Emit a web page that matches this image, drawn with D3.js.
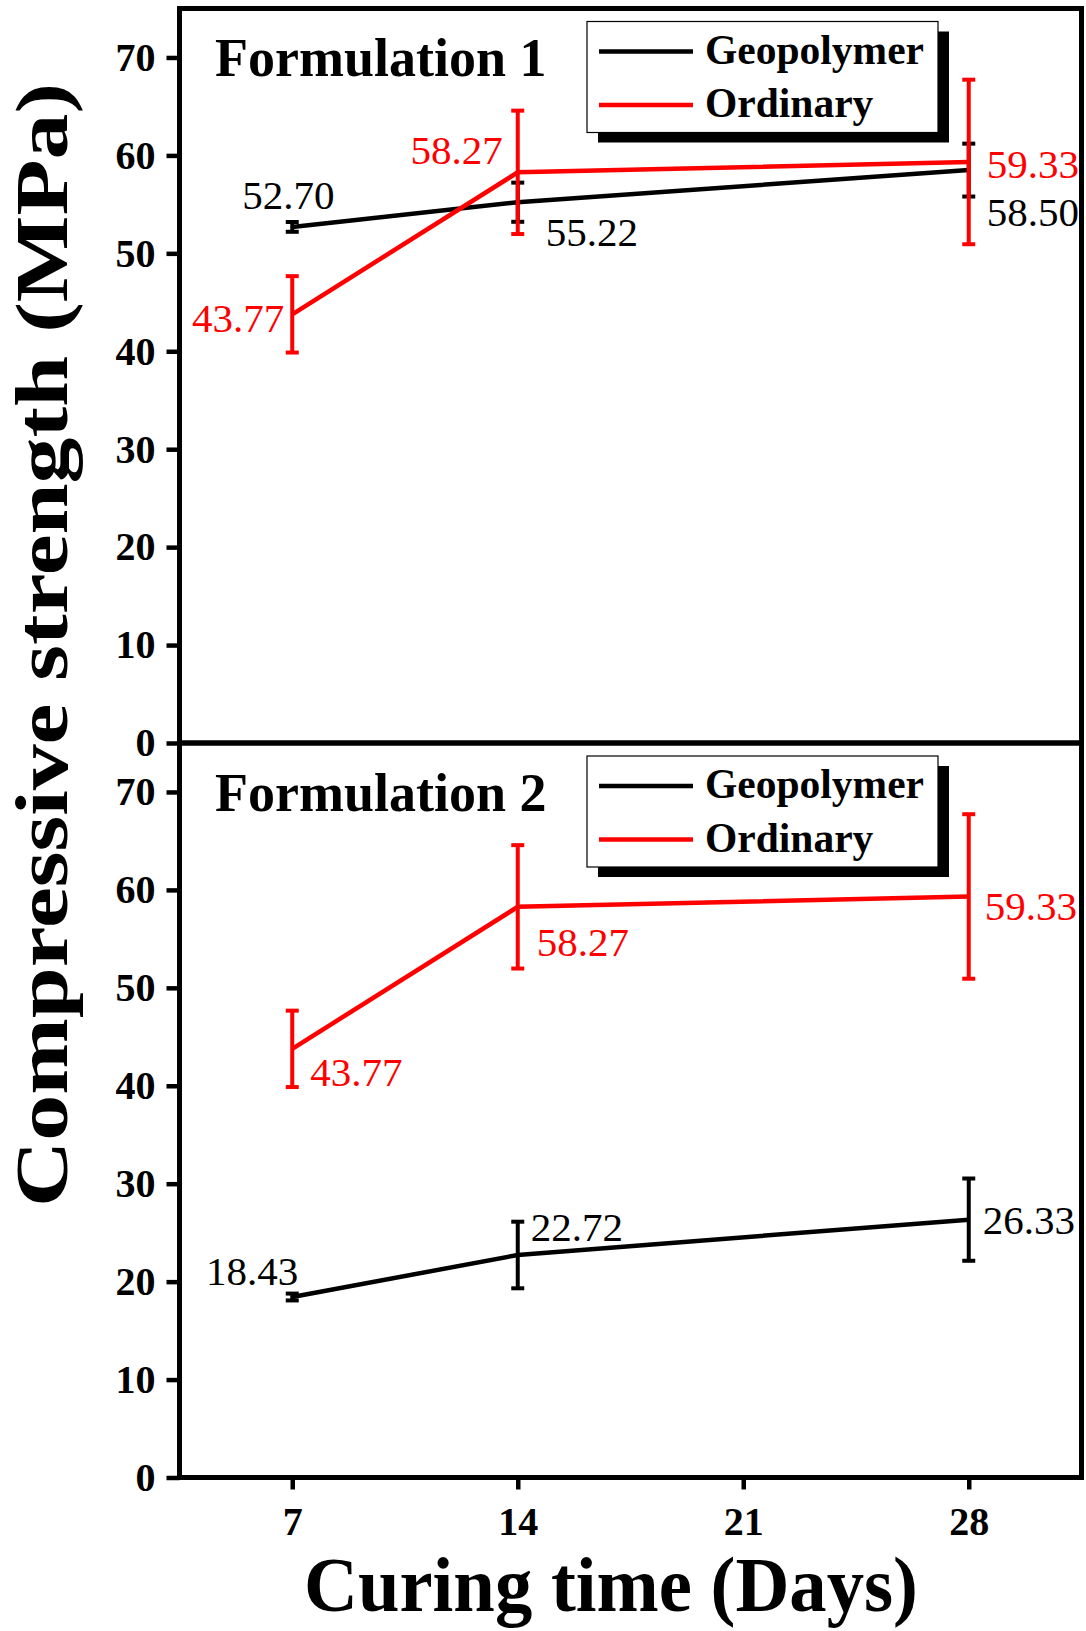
<!DOCTYPE html>
<html>
<head>
<meta charset="utf-8">
<script src="https://cdn.jsdelivr.net/npm/d3@7"></script>
<style>
  html, body { margin: 0; padding: 0; background: #fff; }
  svg { display: block; }
  text { font-family: "Liberation Serif", "Times New Roman", serif; }
</style>
</head>
<body>
<svg id="chart" width="1086" height="1631"></svg>
<script>
// Curing ages (days) and compressive strength results (MPa)
const days = [7, 14, 21, 28];
const testDays = [7, 14, 28];
const yTicks = [0, 10, 20, 30, 40, 50, 60, 70];
const seriesNames = ["Geopolymer", "Ordinary"];
const panelTitles = ["Formulation 1", "Formulation 2"];

// Formulation 1
const f1Geopolymer = [52.70, 55.22, 58.50];
const f1GeopolymerErr = [0.5, 2.0, 2.7];
const f1Ordinary = [43.77, 58.27, 59.33];
const f1OrdinaryErr = [3.9, 6.3, 8.4];

// Formulation 2
const f2Geopolymer = [18.43, 22.72, 26.33];
const f2GeopolymerErr = [0.35, 3.4, 4.2];
const f2Ordinary = [43.77, 58.27, 59.33];
const f2OrdinaryErr = [3.9, 6.3, 8.4];

// Where each value label sits relative to its point: [anchor, dx, dy]
const f1GeoLabelPos = [["middle", -4, -18], ["start", 28, 44], ["start", 18, 56]];
const f1OrdLabelPos = [["end", -8, 18], ["end", -15, -8], ["start", 18, 16]];
const f2GeoLabelPos = [["end", 6, -12], ["start", 13, -14], ["start", 14, 14]];
const f2OrdLabelPos = [["start", 18, 37], ["start", 19, 49], ["start", 16, 24]];

const colors = { Geopolymer: "#000000", Ordinary: "#ff0000" };

const svg = d3.select("#chart");
const left = 179.5, right = 1081.5;
const panelTop = [8.5, 743];
const panelHeight = 734.5;

const x = d3.scaleLinear().domain([3.5, 31.5]).range([left, right]);

const panels = [
  {
    title: panelTitles[0],
    series: [
      { name: "Geopolymer", values: f1Geopolymer, err: f1GeopolymerErr, pos: f1GeoLabelPos },
      { name: "Ordinary", values: f1Ordinary, err: f1OrdinaryErr, pos: f1OrdLabelPos }
    ]
  },
  {
    title: panelTitles[1],
    series: [
      { name: "Geopolymer", values: f2Geopolymer, err: f2GeopolymerErr, pos: f2GeoLabelPos },
      { name: "Ordinary", values: f2Ordinary, err: f2OrdinaryErr, pos: f2OrdLabelPos }
    ]
  }
];

panels.forEach((panel, pi) => {
  const top = panelTop[pi];
  const bottom = top + panelHeight;
  const y = d3.scaleLinear().domain([0, 75]).range([bottom, top]);
  const g = svg.append("g");

  // y axis ticks and labels
  const yAxis = g.append("g")
    .attr("transform", `translate(${left},0)`)
    .call(d3.axisLeft(y).tickValues(yTicks).tickSize(13).tickPadding(11).tickFormat(d3.format("d")));
  yAxis.select(".domain").remove();
  yAxis.selectAll(".tick line").attr("stroke", "#000").attr("stroke-width", 4.5);
  yAxis.selectAll(".tick text")
    .attr("font-family", "'Liberation Serif', 'Times New Roman', serif")
    .attr("font-weight", "bold")
    .attr("font-size", 40)
    .attr("fill", "#000");

  // x axis only on the lower panel
  if (pi === 1) {
    const xAxis = g.append("g")
      .attr("transform", `translate(0,${bottom})`)
      .call(d3.axisBottom(x).tickValues(days).tickSize(12).tickPadding(17).tickFormat(d3.format("d")));
    xAxis.select(".domain").remove();
    xAxis.selectAll(".tick line").attr("stroke", "#000").attr("stroke-width", 4.5);
    xAxis.selectAll(".tick text")
      .attr("font-family", "'Liberation Serif', 'Times New Roman', serif")
      .attr("font-weight", "bold")
      .attr("font-size", 40)
      .attr("fill", "#000");
  }

  // Series: lines, error bars, value labels
  const line = d3.line().x((d, i) => x(testDays[i])).y(d => y(d));
  panel.series.forEach(s => {
    const c = colors[s.name];
    g.append("path")
      .datum(s.values)
      .attr("d", line)
      .attr("fill", "none")
      .attr("stroke", c)
      .attr("stroke-width", 4.5)
      .attr("stroke-linejoin", "miter");

    const eb = g.append("g").attr("stroke", c).attr("stroke-width", 4);
    s.values.forEach((v, i) => {
      const cx = x(testDays[i]);
      const lo = y(v - s.err[i]), hi = y(v + s.err[i]);
      eb.append("line").attr("x1", cx).attr("x2", cx).attr("y1", lo).attr("y2", hi);
      eb.append("line").attr("x1", cx - 6.5).attr("x2", cx + 6.5).attr("y1", lo).attr("y2", lo);
      eb.append("line").attr("x1", cx - 6.5).attr("x2", cx + 6.5).attr("y1", hi).attr("y2", hi);
    });

    g.selectAll(null)
      .data(s.values)
      .enter()
      .append("text")
      .attr("x", (d, i) => x(testDays[i]) + s.pos[i][1])
      .attr("y", (d, i) => y(d) + s.pos[i][2])
      .attr("text-anchor", (d, i) => s.pos[i][0])
      .attr("font-size", 41)
      .attr("fill", c)
      .text(d => d3.format(".2f")(d));
  });

  // Frame
  g.append("rect")
    .attr("x", left).attr("y", top)
    .attr("width", right - left).attr("height", panelHeight)
    .attr("fill", "none").attr("stroke", "#000").attr("stroke-width", 5);

  // Panel title
  g.append("text")
    .attr("x", 215).attr("y", top + 67.5)
    .attr("font-size", 54).attr("font-weight", "bold")
    .text(panel.title);

  // Legend with drop shadow
  const lg = g.append("g").attr("transform", `translate(587,${top + 13})`);
  lg.append("rect").attr("x", 11).attr("y", 10).attr("width", 351).attr("height", 111).attr("fill", "#000");
  lg.append("rect").attr("x", 0).attr("y", 0).attr("width", 351).attr("height", 111)
    .attr("fill", "#fff").attr("stroke", "#000").attr("stroke-width", 1.2);
  seriesNames.forEach((name, i) => {
    const ly = 30 + i * 53.5;
    lg.append("line").attr("x1", 12).attr("x2", 106).attr("y1", ly).attr("y2", ly)
      .attr("stroke", colors[name]).attr("stroke-width", 4.5);
    lg.append("text").attr("x", 118).attr("y", ly + 12)
      .attr("font-size", 41.5).attr("font-weight", "bold").attr("fill", "#000")
      .text(name);
  });
});

// Axis titles
svg.append("text")
  .attr("transform", "translate(67,645) rotate(-90)")
  .attr("text-anchor", "middle")
  .attr("font-size", 74)
  .attr("font-weight", "bold")
  .attr("textLength", 1124)
  .attr("lengthAdjust", "spacingAndGlyphs")
  .text("Compressive strength (MPa)");

svg.append("text")
  .attr("x", 611).attr("y", 1611)
  .attr("text-anchor", "middle")
  .attr("font-size", 78)
  .attr("font-weight", "bold")
  .attr("textLength", 614)
  .attr("lengthAdjust", "spacingAndGlyphs")
  .text("Curing time (Days)");
</script>
</body>
</html>
